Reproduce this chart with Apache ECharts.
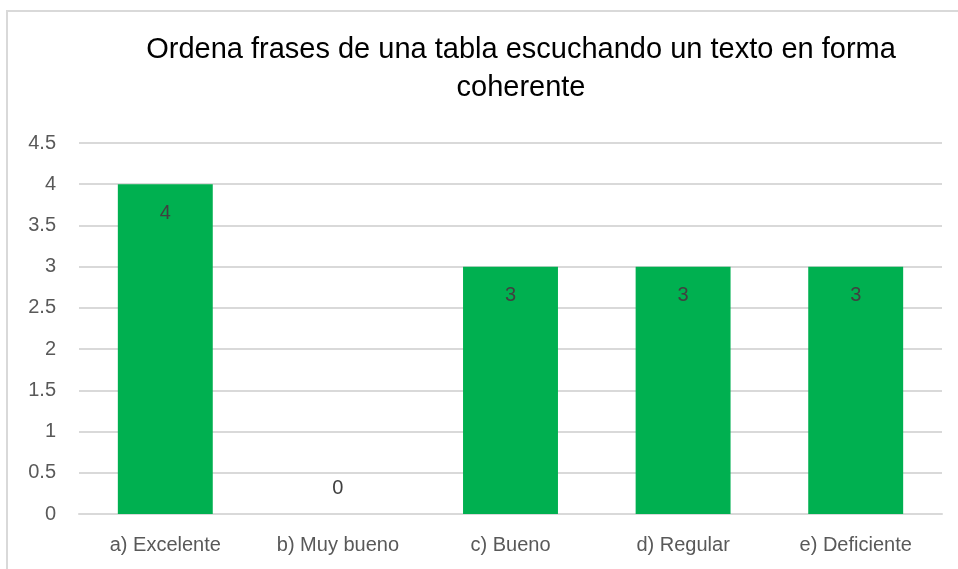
<!DOCTYPE html>
<html>
<head>
<meta charset="utf-8">
<script src="https://cdn.jsdelivr.net/npm/echarts@6/dist/echarts.min.js"></script>
<style>
  html, body { margin: 0; padding: 0; background: #fff; }
  #chart { width: 958px; height: 569px; }
</style>
</head>
<body>
<div id="chart"></div>
<script>
const categories = ['a) Excelente', 'b) Muy bueno', 'c) Bueno', 'd) Regular', 'e) Deficiente']
const values = [4, 0, 3, 3, 3]
const titleText = 'Ordena frases de una tabla escuchando un texto en forma\ncoherente'

const myChart = echarts.init(document.getElementById('chart'))

// zero bars have no height, so their label sits above the axis
const barData = values.map(function (v) {
  if (v === 0) {
    return { value: v, label: { position: 'top', distance: 16 } }
  }
  return v
})

const option = {
  backgroundColor: '#fff',
  textStyle: { fontFamily: 'Liberation Sans' },
  title: {
    text: titleText,
    left: 516,
    top: 26,
    textAlign: 'center',
    textStyle: {
      fontSize: 29,
      fontWeight: 'normal',
      color: '#000',
      lineHeight: 38
    }
  },
  graphic: [
    {
      type: 'rect',
      shape: { x: 7, y: 11, width: 1000, height: 600 },
      style: { fill: 'none', stroke: '#d9d9d9', lineWidth: 2 },
      silent: true
    }
  ],
  grid: {
    left: 79,
    right: 16,
    top: 143,
    bottom: 55
  },
  xAxis: {
    type: 'category',
    data: categories,
    axisLine: { lineStyle: { color: '#d9d9d9', width: 2 } },
    axisTick: { show: false },
    axisLabel: { color: '#595959', fontSize: 20, margin: 21 }
  },
  yAxis: {
    type: 'value',
    min: 0,
    max: 4.5,
    interval: 0.5,
    axisLine: { show: false },
    axisTick: { show: false },
    splitLine: { lineStyle: { color: '#d9d9d9', width: 2 } },
    axisLabel: { color: '#595959', fontSize: 20, margin: 23 }
  },
  series: [
    {
      type: 'bar',
      data: barData,
      barWidth: '55%',
      itemStyle: { color: '#00b050' },
      label: {
        show: true,
        position: 'insideTop',
        distance: 19,
        color: '#404040',
        fontSize: 20
      }
    }
  ]
}
myChart.setOption(option)
window.addEventListener('resize', function () {
  myChart.resize()
})
</script>
</body>
</html>
